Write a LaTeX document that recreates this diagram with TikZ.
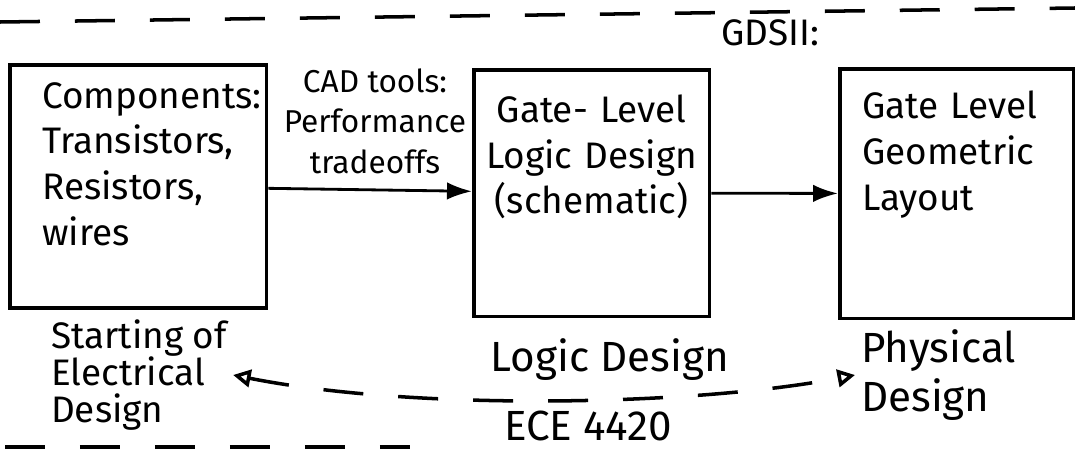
\documentclass[tikz,border=0pt]{standalone}
\usepackage{fontspec}
\setmainfont{Fira Sans}
\usetikzlibrary{positioning, arrows.meta}

\tikzset{
    block/.style={rectangle, draw, line width=2pt, anchor=north west},
    hand/.style={font=\fontsize{21}{26}\selectfont},
    big/.style={font=\fontsize{24}{28}\selectfont},
    flow/.style={-{Latex[length=5mm, width=3.5mm]}, line width=1.6pt},
    guide/.style={dash pattern=on 0.8cm off 0.7cm, line width=2pt}
}

\begin{document}
\begin{tikzpicture}[x=0.02cm, y=-0.02cm]
        \useasboundingbox (0,0) rectangle (1075,453);

        %-----Stages-----

        % Components Stage
        \node [block, hand, align=left, inner xsep=0.65cm, inner ysep=0.35cm, text width=3.84cm, text depth=3.65cm] (comp) at (8,63) {%
            Components:\\
            Transistors,\\
            Resistors,\\
            wires
        };

        % Gate Level Stage
        \node [block, hand, align=center, inner xsep=0.25cm, inner ysep=0.5cm, text width=4.22cm, text depth=3.38cm] (gate) at (472,68) {%
            Gate- Level\\
            Logic Design\\
            (schematic)
        };

        % Layout Stage
        \node [block, hand, align=left, inner xsep=0.45cm, inner ysep=0.45cm, text width=3.78cm, text depth=3.54cm] (geom) at (838,67) {%
            Gate Level\\
            Geometric\\
            Layout
        };

        %-----Labels-----
        \node [font=\fontsize{18}{23}\selectfont, align=center] (cad) at (375,121) {CAD tools:\\Performance\\tradeoffs};
        \node [hand] (gds) at (770,33) {GDSII:};
        \node [font=\fontsize{21}{21}\selectfont, align=left, anchor=west] (elec) at (45,375) {Starting of\\Electrical\\Design};
        \node [big] (logic) at (610,360) {Logic Design};
        \node [big] (ece) at (588,426) {ECE 4420};
        \node [big, align=left, anchor=west] (phys) at (855,375) {Physical\\Design};

        %-----Flow-----
        \draw [flow] (comp) -- (gate);
        \draw [flow] (gate) -- (geom);

        % Electrical to Physical span
        \draw [guide, {Triangle[open, length=3.5mm, width=3.5mm]}-{Triangle[open, length=3.5mm, width=3.5mm]}] (elec.east) .. controls (420,412) and (700,405) .. (phys.west);

        %-----Page Rules-----
        \draw [guide] (0,22) -- (1075,8);
        \draw [guide] (5,447) -- (410,447);

    \end{tikzpicture}
\end{document}
